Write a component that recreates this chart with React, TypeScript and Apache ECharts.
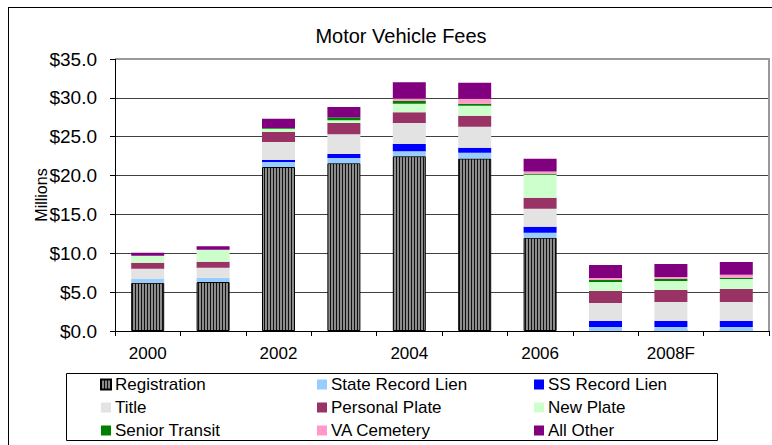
import React, { useEffect, useRef } from "react";
import * as echarts from "echarts";

const categories = ["2000", "2001", "2002", "2003", "2004", "2005", "2006", "2007", "2008F", "2009F"];
const registration = [6.2, 6.3, 21.1, 21.6, 22.5, 22.2, 12.0, 0, 0, 0];
const stateRecordLien = [0.5, 0.55, 0.65, 0.65, 0.64, 0.73, 0.64, 0.5, 0.5, 0.5];
const ssRecordLien = [0, 0, 0.26, 0.51, 0.91, 0.65, 0.77, 0.78, 0.78, 0.78];
const title = [1.3, 1.3, 2.3, 2.57, 2.7, 2.7, 2.32, 2.31, 2.44, 2.44];
const personalPlate = [0.77, 0.77, 1.3, 1.42, 1.41, 1.42, 1.41, 1.55, 1.55, 1.67];
const newPlate = [0.9, 1.54, 0.4, 0.38, 1.07, 1.28, 2.96, 1.15, 1.15, 1.29];
const seniorTransit = [0, 0, 0.1, 0.35, 0.35, 0.25, 0.13, 0.26, 0.26, 0.17];
const vaCemetery = [0, 0, 0, 0, 0.34, 0.65, 0.3, 0.26, 0.26, 0.39];
const allOther = [0.39, 0.43, 1.2, 1.33, 2.1, 2.06, 1.63, 1.67, 1.67, 1.63];

const FONT = 'Arial, "Liberation Sans", sans-serif';

function makePattern() {
  const c = document.createElement("canvas");
  c.width = 3;
  c.height = 3;
  const ctx = c.getContext("2d")!;
  ctx.fillStyle = "#8c8c8c";
  ctx.fillRect(0, 0, 3, 3);
  ctx.fillStyle = "#111111";
  ctx.fillRect(0, 0, 1, 3);
  return c;
}

export default function App() {
  const ref = useRef<HTMLDivElement>(null);
  useEffect(() => {
    const chart = echarts.init(ref.current!, null, { renderer: "svg" });
    const pattern = { image: makePattern(), repeat: "repeat" };
    const seriesDefs: [string, number[], any][] = [
      ["Registration", registration, pattern],
      ["State Record Lien", stateRecordLien, "#99CCFF"],
      ["SS Record Lien", ssRecordLien, "#0000FF"],
      ["Title", title, "#E3E3E3"],
      ["Personal Plate", personalPlate, "#993366"],
      ["New Plate", newPlate, "#CCFFCC"],
      ["Senior Transit", seniorTransit, "#008000"],
      ["VA Cemetery", vaCemetery, "#FF99CC"],
      ["All Other", allOther, "#800080"],
    ];
    const series = seriesDefs.map(([name, data, color]) => ({
      name,
      type: "bar",
      stack: "total",
      barWidth: 33,
      data,
      itemStyle:
        name === "Registration"
          ? { color, borderColor: "#000", borderWidth: 1 }
          : { color },
    }));
    const legendCols = [
      ["Registration", "Title", "Senior Transit"],
      ["State Record Lien", "Personal Plate", "VA Cemetery"],
      ["SS Record Lien", "New Plate", "All Other"],
    ];
    const legendX = [100, 317, 534];
    const legends = legendCols.map((col, i) => ({
      data: col,
      orient: "vertical",
      left: legendX[i],
      top: 376,
      padding: 0,
      itemWidth: 10,
      itemHeight: 10,
      itemGap: 6,
      selectedMode: false,
      icon: "rect",
      textStyle: { fontFamily: FONT, fontSize: 17, color: "#000", lineHeight: 17, padding: [0, 0, 0, -1] },
    }));
    chart.setOption({
      animation: false,
      backgroundColor: "#fff",
      title: {
        text: "Motor Vehicle Fees",
        left: 396,
        top: 21,
        textAlign: "center",
        textStyle: { fontFamily: FONT, fontSize: 20, fontWeight: "normal", color: "#000" },
      },
      legend: legends,
      grid: { left: 115, top: 59, width: 654, height: 272, containLabel: false },
      xAxis: {
        type: "category",
        data: categories,
        axisLine: { show: true, lineStyle: { color: "#000", width: 1 } },
        axisTick: { show: true, interval: 0, length: 5, lineStyle: { color: "#000" } },
        axisLabel: { interval: 1, margin: 14, fontFamily: FONT, fontSize: 17, color: "#000" },
      },
      yAxis: {
        type: "value",
        min: 0,
        max: 35,
        interval: 5,
        name: "Millions",
        nameLocation: "middle",
        nameGap: 66,
        nameMoveOverlap: false,
        nameTextStyle: { fontFamily: FONT, fontSize: 16, color: "#000" },
        axisLine: { show: true, lineStyle: { color: "#000", width: 1 } },
        axisTick: { show: true, length: 5, lineStyle: { color: "#000" } },
        axisLabel: {
          margin: 18,
          fontFamily: FONT,
          fontSize: 19,
          color: "#000",
          formatter: (v: number) => "$" + v.toFixed(1),
        },
        splitLine: { show: true, lineStyle: { color: "#404040", width: 1 } },
      },
      graphic: [
        {
          type: "line",
          z: 100,
          shape: { x1: 8.5, y1: 7, x2: 8.5, y2: 445 },
          style: { stroke: "#000", lineWidth: 1 },
        },
        {
          type: "line",
          z: 100,
          shape: { x1: 8, y1: 7.5, x2: 772, y2: 7.5 },
          style: { stroke: "#000", lineWidth: 1 },
        },
        {
          type: "polyline",
          z: 100,
          shape: { points: [[116, 59], [769, 59], [769, 331]] },
          style: { stroke: "#999", lineWidth: 2, fill: null },
        },
        {
          type: "rect",
          z: 100,
          shape: { x: 66.5, y: 373.5, width: 651, height: 67 },
          style: { stroke: "#000", lineWidth: 1, fill: null },
        },
      ],
      series,
    });
    return () => chart.dispose();
  }, []);
  return (
    <div
      ref={ref}
      style={{ position: "absolute", left: 0, top: 0, width: 772, height: 445 }}
    />
  );
}
